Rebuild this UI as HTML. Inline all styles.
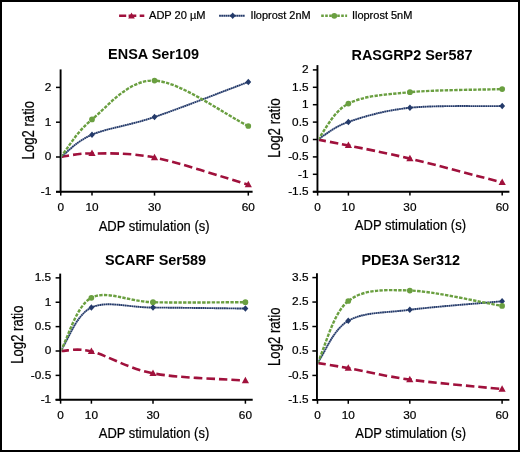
<!DOCTYPE html><html><head><meta charset="utf-8"><style>html,body{margin:0;padding:0;background:#fff;}svg{display:block;will-change:transform;}text{font-family:"Liberation Sans",sans-serif;fill:#000;stroke:#000;stroke-width:0.22px;}text[font-weight=bold]{stroke-width:0;}</style></head><body>
<svg width="520" height="452" viewBox="0 0 520 452">
<rect x="0" y="0" width="520" height="452" fill="#fff"/>
<g>
<line x1="119.1" y1="15.8" x2="144.3" y2="15.8" stroke="#a0113c" stroke-width="2.5" stroke-dasharray="7.1 2.4 7.7 3.4 4.6" />
<path d="M131.50,12.54 L134.80,18.48 L128.20,18.48 Z" fill="#a0113c"/>
<text x="149.00" y="18.60" font-size="11.00" text-anchor="start" font-weight="normal" textLength="56.6" lengthAdjust="spacingAndGlyphs" >ADP 20 µM</text>
<line x1="219.1" y1="15.8" x2="245.0" y2="15.8" stroke="#243a6a" stroke-width="1.9" stroke-dasharray="1.8 0.35"/>
<path d="M232.70,12.50 L235.60,15.80 L232.70,19.10 L229.80,15.80 Z" fill="#243a6a"/>
<text x="250.40" y="18.60" font-size="11.00" text-anchor="start" font-weight="normal" textLength="60.2" lengthAdjust="spacingAndGlyphs" >Iloprost 2nM</text>
<line x1="321.2" y1="15.8" x2="347.1" y2="15.8" stroke="#6a9f40" stroke-width="2.6" stroke-dasharray="2.6 1.4"/>
<circle cx="334.30" cy="15.80" r="2.90" fill="#6a9f40"/>
<text x="351.90" y="18.60" font-size="11.00" text-anchor="start" font-weight="normal" textLength="60.5" lengthAdjust="spacingAndGlyphs" >Iloprost 5nM</text>
</g>
<g><clipPath id="cp0"><rect x="62.00" y="30" width="454.40" height="161.70"/></clipPath><line x1="60.60" y1="69.40" x2="60.60" y2="192.60" stroke="#000" stroke-width="1.9"/><line x1="56.00" y1="191.70" x2="252.60" y2="191.70" stroke="#000" stroke-width="1.9"/><line x1="56.00" y1="87.40" x2="60.60" y2="87.40" stroke="#000" stroke-width="1.5"/><text x="51.30" y="90.80" font-size="11.80" text-anchor="end" font-weight="normal" >2</text><line x1="56.00" y1="122.20" x2="60.60" y2="122.20" stroke="#000" stroke-width="1.5"/><text x="51.30" y="125.60" font-size="11.80" text-anchor="end" font-weight="normal" >1</text><line x1="56.00" y1="157.00" x2="60.60" y2="157.00" stroke="#000" stroke-width="1.5"/><text x="51.30" y="160.40" font-size="11.80" text-anchor="end" font-weight="normal" >0</text><line x1="56.00" y1="191.80" x2="60.60" y2="191.80" stroke="#000" stroke-width="1.5"/><text x="51.30" y="195.20" font-size="11.80" text-anchor="end" font-weight="normal" >-1</text><line x1="60.74" y1="191.70" x2="60.74" y2="195.60" stroke="#000" stroke-width="1.5"/><text x="60.74" y="210.80" font-size="11.80" text-anchor="middle" font-weight="normal" >0</text><line x1="92.00" y1="191.70" x2="92.00" y2="195.60" stroke="#000" stroke-width="1.5"/><text x="92.00" y="210.80" font-size="11.80" text-anchor="middle" font-weight="normal" >10</text><line x1="154.52" y1="191.70" x2="154.52" y2="195.60" stroke="#000" stroke-width="1.5"/><text x="154.52" y="210.80" font-size="11.80" text-anchor="middle" font-weight="normal" >30</text><line x1="248.30" y1="191.70" x2="248.30" y2="195.60" stroke="#000" stroke-width="1.5"/><text x="248.30" y="210.80" font-size="11.80" text-anchor="middle" font-weight="normal" >60</text><text x="153.55" y="59.20" font-size="14.30" text-anchor="middle" font-weight="bold" textLength="90.9" lengthAdjust="spacingAndGlyphs" >ENSA Ser109</text><text x="154.15" y="230.50" font-size="14.50" text-anchor="middle" font-weight="normal" textLength="110.9" lengthAdjust="spacingAndGlyphs" >ADP stimulation (s)</text><text transform="translate(33.60,130.20) rotate(-90)" x="0" y="0" font-size="16" text-anchor="middle" textLength="58.4" lengthAdjust="spacingAndGlyphs">Log2 ratio</text><g clip-path="url(#cp0)"><path d="M60.74,156.90 C68.56,156.03 76.37,153.31 92.00,153.43 C107.63,153.55 128.47,152.39 154.52,157.59 C180.57,162.80 224.86,177.89 248.30,184.66" fill="none" stroke="#a0113c" stroke-width="2.6" stroke-dasharray="8.5 4"/><path d="M60.74,156.90 C68.56,151.35 76.37,141.34 92.00,134.69 C107.63,128.04 128.47,125.79 154.52,117.00 C180.57,108.20 224.86,90.71 248.30,81.95" fill="none" stroke="#243a6a" stroke-width="1.9" stroke-dasharray="1.8 0.35"/><path d="M60.74,156.90 C68.56,147.53 76.37,132.15 92.00,119.42 C107.63,106.70 128.47,79.46 154.52,80.56 C180.57,81.66 224.86,114.65 248.30,126.02" fill="none" stroke="#6a9f40" stroke-width="2.4" stroke-dasharray="3.4 1.3"/></g><path d="M92.00,149.54 L95.60,156.02 L88.40,156.02 Z" fill="#a0113c"/><path d="M154.52,153.71 L158.12,160.19 L150.92,160.19 Z" fill="#a0113c"/><path d="M248.30,180.77 L251.90,187.25 L244.70,187.25 Z" fill="#a0113c"/><path d="M92.00,131.39 L94.90,134.69 L92.00,137.99 L89.10,134.69 Z" fill="#243a6a"/><path d="M154.52,113.70 L157.42,117.00 L154.52,120.30 L151.62,117.00 Z" fill="#243a6a"/><path d="M248.30,78.65 L251.20,81.95 L248.30,85.25 L245.40,81.95 Z" fill="#243a6a"/><circle cx="92.00" cy="119.42" r="2.85" fill="#6a9f40"/><circle cx="154.52" cy="80.56" r="2.85" fill="#6a9f40"/><circle cx="248.30" cy="126.02" r="2.85" fill="#6a9f40"/></g>
<g><clipPath id="cp1"><rect x="318.85" y="30" width="197.55" height="161.70"/></clipPath><line x1="317.45" y1="65.10" x2="317.45" y2="192.60" stroke="#000" stroke-width="1.9"/><line x1="312.85" y1="191.70" x2="509.40" y2="191.70" stroke="#000" stroke-width="1.9"/><line x1="312.85" y1="69.90" x2="317.45" y2="69.90" stroke="#000" stroke-width="1.5"/><text x="308.50" y="73.30" font-size="11.80" text-anchor="end" font-weight="normal" >2</text><line x1="312.85" y1="87.30" x2="317.45" y2="87.30" stroke="#000" stroke-width="1.5"/><text x="308.50" y="90.70" font-size="11.80" text-anchor="end" font-weight="normal" >1.5</text><line x1="312.85" y1="104.70" x2="317.45" y2="104.70" stroke="#000" stroke-width="1.5"/><text x="308.50" y="108.10" font-size="11.80" text-anchor="end" font-weight="normal" >1</text><line x1="312.85" y1="122.10" x2="317.45" y2="122.10" stroke="#000" stroke-width="1.5"/><text x="308.50" y="125.50" font-size="11.80" text-anchor="end" font-weight="normal" >0.5</text><line x1="312.85" y1="139.50" x2="317.45" y2="139.50" stroke="#000" stroke-width="1.5"/><text x="308.50" y="142.90" font-size="11.80" text-anchor="end" font-weight="normal" >0</text><line x1="312.85" y1="156.90" x2="317.45" y2="156.90" stroke="#000" stroke-width="1.5"/><text x="308.50" y="160.30" font-size="11.80" text-anchor="end" font-weight="normal" >-0.5</text><line x1="312.85" y1="174.30" x2="317.45" y2="174.30" stroke="#000" stroke-width="1.5"/><text x="308.50" y="177.70" font-size="11.80" text-anchor="end" font-weight="normal" >-1</text><line x1="312.85" y1="191.70" x2="317.45" y2="191.70" stroke="#000" stroke-width="1.5"/><text x="308.50" y="195.10" font-size="11.80" text-anchor="end" font-weight="normal" >-1.5</text><line x1="317.64" y1="191.70" x2="317.64" y2="195.60" stroke="#000" stroke-width="1.5"/><text x="317.64" y="210.60" font-size="11.80" text-anchor="middle" font-weight="normal" >0</text><line x1="348.40" y1="191.70" x2="348.40" y2="195.60" stroke="#000" stroke-width="1.5"/><text x="348.40" y="210.60" font-size="11.80" text-anchor="middle" font-weight="normal" >10</text><line x1="409.92" y1="191.70" x2="409.92" y2="195.60" stroke="#000" stroke-width="1.5"/><text x="409.92" y="210.60" font-size="11.80" text-anchor="middle" font-weight="normal" >30</text><line x1="502.20" y1="191.70" x2="502.20" y2="195.60" stroke="#000" stroke-width="1.5"/><text x="502.20" y="210.60" font-size="11.80" text-anchor="middle" font-weight="normal" >60</text><text x="412.00" y="60.20" font-size="14.30" text-anchor="middle" font-weight="bold" textLength="121.0" lengthAdjust="spacingAndGlyphs" >RASGRP2 Ser587</text><text x="410.40" y="230.20" font-size="14.50" text-anchor="middle" font-weight="normal" textLength="111.2" lengthAdjust="spacingAndGlyphs" >ADP stimulation (s)</text><text transform="translate(279.90,128.00) rotate(-90)" x="0" y="0" font-size="16" text-anchor="middle" textLength="59.5" lengthAdjust="spacingAndGlyphs">Log2 ratio</text><g clip-path="url(#cp1)"><path d="M317.64,139.60 C325.33,141.07 333.02,142.31 348.40,145.48 C363.78,148.65 384.29,152.46 409.92,158.63 C435.55,164.80 479.13,176.54 502.20,182.50" fill="none" stroke="#a0113c" stroke-width="2.6" stroke-dasharray="8.5 4"/><path d="M317.64,139.60 C325.33,135.19 333.02,127.26 348.40,121.95 C363.78,116.65 384.29,110.42 409.92,107.77 C435.55,105.12 479.13,106.47 502.20,106.04" fill="none" stroke="#243a6a" stroke-width="1.9" stroke-dasharray="1.8 0.35"/><path d="M317.64,139.60 C325.33,130.60 333.02,111.52 348.40,103.62 C363.78,95.72 384.29,94.62 409.92,92.20 C435.55,89.78 479.13,89.86 502.20,89.08" fill="none" stroke="#6a9f40" stroke-width="2.4" stroke-dasharray="3.4 1.3"/></g><path d="M348.40,141.59 L352.00,148.07 L344.80,148.07 Z" fill="#a0113c"/><path d="M409.92,154.74 L413.52,161.22 L406.32,161.22 Z" fill="#a0113c"/><path d="M502.20,178.62 L505.80,185.10 L498.60,185.10 Z" fill="#a0113c"/><path d="M348.40,118.65 L351.30,121.95 L348.40,125.25 L345.50,121.95 Z" fill="#243a6a"/><path d="M409.92,104.47 L412.82,107.77 L409.92,111.07 L407.02,107.77 Z" fill="#243a6a"/><path d="M502.20,102.74 L505.10,106.04 L502.20,109.34 L499.30,106.04 Z" fill="#243a6a"/><circle cx="348.40" cy="103.62" r="2.85" fill="#6a9f40"/><circle cx="409.92" cy="92.20" r="2.85" fill="#6a9f40"/><circle cx="502.20" cy="89.08" r="2.85" fill="#6a9f40"/></g>
<g><clipPath id="cp2"><rect x="61.60" y="30" width="454.80" height="369.80"/></clipPath><line x1="60.20" y1="273.60" x2="60.20" y2="400.70" stroke="#000" stroke-width="1.9"/><line x1="55.60" y1="399.80" x2="252.70" y2="399.80" stroke="#000" stroke-width="1.9"/><line x1="55.60" y1="277.86" x2="60.20" y2="277.86" stroke="#000" stroke-width="1.5"/><text x="51.20" y="281.26" font-size="11.80" text-anchor="end" font-weight="normal" >1.5</text><line x1="55.60" y1="302.24" x2="60.20" y2="302.24" stroke="#000" stroke-width="1.5"/><text x="51.20" y="305.64" font-size="11.80" text-anchor="end" font-weight="normal" >1</text><line x1="55.60" y1="326.62" x2="60.20" y2="326.62" stroke="#000" stroke-width="1.5"/><text x="51.20" y="330.02" font-size="11.80" text-anchor="end" font-weight="normal" >0.5</text><line x1="55.60" y1="351.00" x2="60.20" y2="351.00" stroke="#000" stroke-width="1.5"/><text x="51.20" y="354.40" font-size="11.80" text-anchor="end" font-weight="normal" >0</text><line x1="55.60" y1="375.38" x2="60.20" y2="375.38" stroke="#000" stroke-width="1.5"/><text x="51.20" y="378.78" font-size="11.80" text-anchor="end" font-weight="normal" >-0.5</text><line x1="55.60" y1="399.76" x2="60.20" y2="399.76" stroke="#000" stroke-width="1.5"/><text x="51.20" y="403.16" font-size="11.80" text-anchor="end" font-weight="normal" >-1</text><line x1="60.60" y1="399.80" x2="60.60" y2="403.70" stroke="#000" stroke-width="1.5"/><text x="60.60" y="418.90" font-size="11.80" text-anchor="middle" font-weight="normal" >0</text><line x1="91.40" y1="399.80" x2="91.40" y2="403.70" stroke="#000" stroke-width="1.5"/><text x="91.40" y="418.90" font-size="11.80" text-anchor="middle" font-weight="normal" >10</text><line x1="153.00" y1="399.80" x2="153.00" y2="403.70" stroke="#000" stroke-width="1.5"/><text x="153.00" y="418.90" font-size="11.80" text-anchor="middle" font-weight="normal" >30</text><line x1="245.40" y1="399.80" x2="245.40" y2="403.70" stroke="#000" stroke-width="1.5"/><text x="245.40" y="418.90" font-size="11.80" text-anchor="middle" font-weight="normal" >60</text><text x="155.50" y="265.00" font-size="14.30" text-anchor="middle" font-weight="bold" textLength="101.2" lengthAdjust="spacingAndGlyphs" >SCARF Ser589</text><text x="154.00" y="437.90" font-size="14.50" text-anchor="middle" font-weight="normal" textLength="110.4" lengthAdjust="spacingAndGlyphs" >ADP stimulation (s)</text><text transform="translate(22.90,334.60) rotate(-90)" x="0" y="0" font-size="16" text-anchor="middle" textLength="58.2" lengthAdjust="spacingAndGlyphs">Log2 ratio</text><g clip-path="url(#cp2)"><path d="M60.60,350.90 C68.30,351.02 76.00,347.65 91.40,351.39 C106.80,355.12 127.33,368.43 153.00,373.30 C178.67,378.17 222.30,378.78 245.40,380.61" fill="none" stroke="#a0113c" stroke-width="2.6" stroke-dasharray="8.5 4"/><path d="M60.60,350.90 C68.30,340.06 76.00,314.78 91.40,307.56 C106.80,300.33 127.33,307.39 153.00,307.56 C178.67,307.72 222.30,308.29 245.40,308.53" fill="none" stroke="#243a6a" stroke-width="1.9" stroke-dasharray="1.8 0.35"/><path d="M60.60,350.90 C68.30,337.63 76.00,305.93 91.40,297.82 C106.80,289.70 127.33,301.47 153.00,302.20 C178.67,302.93 222.30,302.20 245.40,302.20" fill="none" stroke="#6a9f40" stroke-width="2.4" stroke-dasharray="3.4 1.3"/></g><path d="M91.40,347.50 L95.00,353.98 L87.80,353.98 Z" fill="#a0113c"/><path d="M153.00,369.41 L156.60,375.89 L149.40,375.89 Z" fill="#a0113c"/><path d="M245.40,376.72 L249.00,383.20 L241.80,383.20 Z" fill="#a0113c"/><path d="M91.40,304.26 L94.30,307.56 L91.40,310.86 L88.50,307.56 Z" fill="#243a6a"/><path d="M153.00,304.26 L155.90,307.56 L153.00,310.86 L150.10,307.56 Z" fill="#243a6a"/><path d="M245.40,305.23 L248.30,308.53 L245.40,311.83 L242.50,308.53 Z" fill="#243a6a"/><circle cx="91.40" cy="297.82" r="2.85" fill="#6a9f40"/><circle cx="153.00" cy="302.20" r="2.85" fill="#6a9f40"/><circle cx="245.40" cy="302.20" r="2.85" fill="#6a9f40"/></g>
<g><clipPath id="cp3"><rect x="318.35" y="30" width="198.05" height="369.90"/></clipPath><line x1="316.95" y1="273.20" x2="316.95" y2="400.80" stroke="#000" stroke-width="1.9"/><line x1="312.35" y1="399.90" x2="509.40" y2="399.90" stroke="#000" stroke-width="1.9"/><line x1="312.35" y1="277.59" x2="316.95" y2="277.59" stroke="#000" stroke-width="1.5"/><text x="308.50" y="280.99" font-size="11.80" text-anchor="end" font-weight="normal" >3.5</text><line x1="312.35" y1="302.05" x2="316.95" y2="302.05" stroke="#000" stroke-width="1.5"/><text x="308.50" y="305.45" font-size="11.80" text-anchor="end" font-weight="normal" >2.5</text><line x1="312.35" y1="326.51" x2="316.95" y2="326.51" stroke="#000" stroke-width="1.5"/><text x="308.50" y="329.91" font-size="11.80" text-anchor="end" font-weight="normal" >1.5</text><line x1="312.35" y1="350.97" x2="316.95" y2="350.97" stroke="#000" stroke-width="1.5"/><text x="308.50" y="354.37" font-size="11.80" text-anchor="end" font-weight="normal" >0.5</text><line x1="312.35" y1="375.43" x2="316.95" y2="375.43" stroke="#000" stroke-width="1.5"/><text x="308.50" y="378.83" font-size="11.80" text-anchor="end" font-weight="normal" >-0.5</text><line x1="312.35" y1="399.89" x2="316.95" y2="399.89" stroke="#000" stroke-width="1.5"/><text x="308.50" y="403.29" font-size="11.80" text-anchor="end" font-weight="normal" >-1.5</text><line x1="317.50" y1="399.90" x2="317.50" y2="403.80" stroke="#000" stroke-width="1.5"/><text x="317.50" y="418.90" font-size="11.80" text-anchor="middle" font-weight="normal" >0</text><line x1="348.27" y1="399.90" x2="348.27" y2="403.80" stroke="#000" stroke-width="1.5"/><text x="348.27" y="418.90" font-size="11.80" text-anchor="middle" font-weight="normal" >10</text><line x1="409.80" y1="399.90" x2="409.80" y2="403.80" stroke="#000" stroke-width="1.5"/><text x="409.80" y="418.90" font-size="11.80" text-anchor="middle" font-weight="normal" >30</text><line x1="502.10" y1="399.90" x2="502.10" y2="403.80" stroke="#000" stroke-width="1.5"/><text x="502.10" y="418.90" font-size="11.80" text-anchor="middle" font-weight="normal" >60</text><text x="410.75" y="265.00" font-size="14.30" text-anchor="middle" font-weight="bold" textLength="98.7" lengthAdjust="spacingAndGlyphs" >PDE3A Ser312</text><text x="410.65" y="437.90" font-size="14.50" text-anchor="middle" font-weight="normal" textLength="110.7" lengthAdjust="spacingAndGlyphs" >ADP stimulation (s)</text><text transform="translate(279.90,336.75) rotate(-90)" x="0" y="0" font-size="16" text-anchor="middle" textLength="58.5" lengthAdjust="spacingAndGlyphs">Log2 ratio</text><g clip-path="url(#cp3)"><path d="M317.50,363.00 C325.19,364.28 332.88,365.36 348.27,368.12 C363.65,370.89 384.16,376.09 409.80,379.59 C435.44,383.09 479.03,386.73 502.10,389.11" fill="none" stroke="#a0113c" stroke-width="2.6" stroke-dasharray="8.5 4"/><path d="M317.50,363.00 C325.19,352.45 332.88,329.65 348.27,320.79 C363.65,311.92 384.16,313.06 409.80,309.81 C435.44,306.55 479.03,303.40 502.10,301.27" fill="none" stroke="#243a6a" stroke-width="1.9" stroke-dasharray="1.8 0.35"/><path d="M317.50,363.00 C325.19,347.51 332.88,313.10 348.27,301.02 C363.65,288.95 384.16,289.72 409.80,290.53 C435.44,291.35 479.03,302.06 502.10,305.90" fill="none" stroke="#6a9f40" stroke-width="2.4" stroke-dasharray="3.4 1.3"/></g><path d="M348.27,364.24 L351.87,370.72 L344.67,370.72 Z" fill="#a0113c"/><path d="M409.80,375.70 L413.40,382.18 L406.20,382.18 Z" fill="#a0113c"/><path d="M502.10,385.22 L505.70,391.70 L498.50,391.70 Z" fill="#a0113c"/><path d="M348.27,317.49 L351.17,320.79 L348.27,324.09 L345.36,320.79 Z" fill="#243a6a"/><path d="M409.80,306.51 L412.70,309.81 L409.80,313.11 L406.90,309.81 Z" fill="#243a6a"/><path d="M502.10,297.97 L505.00,301.27 L502.10,304.57 L499.20,301.27 Z" fill="#243a6a"/><circle cx="348.27" cy="301.02" r="2.85" fill="#6a9f40"/><circle cx="409.80" cy="290.53" r="2.85" fill="#6a9f40"/><circle cx="502.10" cy="305.90" r="2.85" fill="#6a9f40"/></g>
<rect x="1" y="1" width="518" height="450" fill="none" stroke="#000" stroke-width="2"/>
</svg></body></html>
